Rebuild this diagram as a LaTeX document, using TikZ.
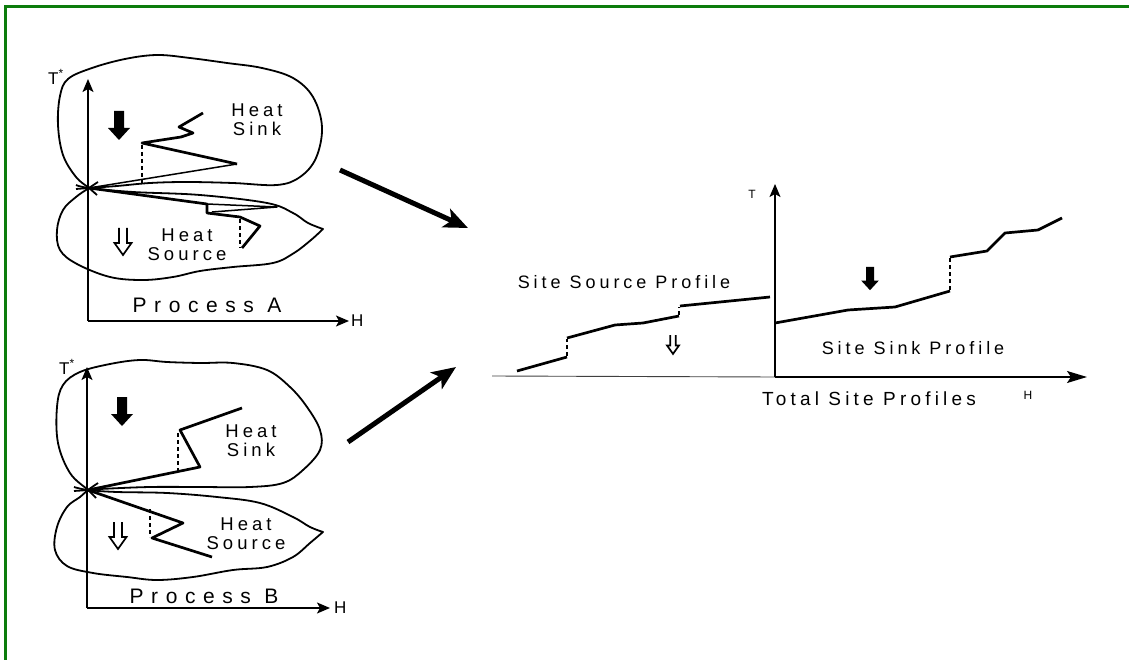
\documentclass[tikz,border=0pt]{standalone}
\usepackage{fontspec}
\setmainfont{Liberation Sans}
\newfontfamily\lbl[LetterSpace=22]{Liberation Sans}
\newfontfamily\lblwide[LetterSpace=36]{Liberation Sans}
\usetikzlibrary{arrows.meta}
\definecolor{framegreen}{RGB}{12,124,12}

\begin{document}
\begin{tikzpicture}[x=1pt,y=-1pt,
  blob/.style={line width=1.8pt, line join=round},
  profile/.style={line width=2.7pt, line join=round},
  thinprof/.style={line width=1.5pt, line join=round},
  drop/.style={line width=1.4pt, dash pattern=on 4pt off 3pt},
  axis/.style={line width=1.5pt, -{Stealth[length=13pt,width=11pt,inset=3pt]}},
  bigarrow/.style={line width=5pt, -{Stealth[length=24pt,width=20pt,inset=6pt]}},
  lab/.style={inner sep=0pt, align=center, font={\lbl\fontsize{18.5}{19}\selectfont}},
  title/.style={inner sep=0pt, font={\lblwide\fontsize{21}{22}\selectfont}},
  sitelab/.style={inner sep=0pt, font={\lbl\fontsize{18}{19}\selectfont}},
  axlab/.style={inner sep=0pt, font={\fontsize{17}{18}\selectfont}},
  smallax/.style={inner sep=0pt, font={\fontsize{12}{14}\selectfont}},
  solidarrow/.pic={\fill (-5,0) -- (-5,17) -- (-11,17) -- (0,29) -- (11,17) -- (5,17) -- (5,0) -- cycle;},
  hollowarrow/.pic={\draw[line width=1.7pt, line join=miter]
      (-4,0) -- (-4,15) -- (-8.5,15) -- (0,27) -- (8.5,15) -- (4,15) -- (4,0);},
]
\useasboundingbox (0,0) rectangle (1129,660);

% outer frame
\draw[framegreen, line width=3.5pt] (5.5,680) -- (5.5,6.5) -- (1150,6.5);

% ---------------- Process A ----------------
\coordinate (A0) at (88,321);
\coordinate (Atop) at (88,79);
\coordinate (Aend) at (349,321);
\coordinate (Ax) at (89,188);
\draw[axis] (A0) -- (Atop);
\draw[axis] (A0) -- (Aend);
\node[axlab] (AT) at (56,77) {T\textsuperscript{*}};
\node[axlab, anchor=west] (AH) at (351,321) {H};

% heat sink envelope
\draw[blob] plot[smooth, tension=0.6] coordinates {
  (97,195) (Ax) (76,177) (63,155) (58,125) (60,96) (68,79) (92,68) (125,59)
  (157,55) (190,58) (227,63) (262,68) (293,78) (313,97) (322,127) (316,158)
  (300,177) (277,185) (233,183) (187,182) (150,183) (117,186) (Ax) (76,189)};
% heat source envelope
\draw[blob] plot[smooth, tension=0.6] coordinates {
  (76,185) (Ax) (133,192) (200,195) (267,203) (293,213) (308,223) (323,229)}
  -- plot[smooth, tension=0.6] coordinates {
  (323,229) (311,240) (294,253) (273,263) (233,267) (200,271) (173,277)
  (143,280) (110,277) (77,264) (60,250) (57,230) (63,210) (76,197) (Ax) (98,182)};

% sink composite curve
\draw[thinprof] (Ax) -- (237,164);
\draw[profile] (237,164) -- (142,143) -- (181,137) -- (193,133) -- (179,127) -- (203,113);
\draw[drop] (142,145) -- (142,183);
% source composite curve
\draw[profile] (Ax) -- (207,204) -- (207,213) -- (240,217) -- (260,226) -- (242,248);
\draw[thinprof] (207,204) -- (277,207) -- (212,212);
\draw[drop] (240,219) -- (240,248);

\pic at (119,111) {solidarrow};
\pic at (123,228) {hollowarrow};

\node[lab] (Asink) at (257,120) {Heat\\Sink};
\node[lab] (Asource) at (187,245) {Heat\\Source};
\node[title] (Aname) at (207,305) {Process A};

% ---------------- Process B ----------------
\coordinate (B0) at (87,608);
\coordinate (Btop) at (87,367);
\coordinate (Bend) at (330,608);
\coordinate (Bx) at (88,490);
\draw[axis] (B0) -- (Btop);
\draw[axis] (B0) -- (Bend);
\node[axlab] (BT) at (67,367) {T\textsuperscript{*}};
\node[axlab, anchor=west] (BH) at (334,608) {H};

% heat sink envelope
\draw[blob] plot[smooth, tension=0.6] coordinates {
  (96,498) (Bx) (70,473) (58,443) (57,407) (63,385) (80,372) (110,364) (140,360)
  (167,362) (200,363) (233,363) (267,370) (290,387) (307,407) (320,430)
  (320,450) (303,470) (283,483) (250,487) (200,487) (150,487) (100,489) (Bx) (74,491)};
% heat source envelope
\draw[blob] plot[smooth, tension=0.6] coordinates {
  (74,487) (Bx) (117,492) (167,493) (217,497) (260,503) (293,517) (310,527) (323,532)}
  -- plot[smooth, tension=0.6] coordinates {
  (323,532) (310,543) (293,557) (267,567) (233,570) (193,577) (157,580)
  (127,577) (93,573) (67,566) (55,550) (57,527) (67,507) (80,497) (Bx) (98,483)};

% sink composite curve
\draw[profile] (Bx) -- (200,467) -- (180,430) -- (242,408);
\draw[drop] (178,433) -- (178,471);
% source composite curve
\draw[profile] (Bx) -- (183,523) -- (152,538) -- (212,557);
\draw[drop] (150,509) -- (150,537);

\pic at (122,397) {solidarrow};
\pic at (118,522) {hollowarrow};

\node[lab] (Bsink) at (251,441) {Heat\\Sink};
\node[lab] (Bsource) at (246,534) {Heat\\Source};
\node[title] (Bname) at (204,596) {Process B};

% ---------------- Total site profiles ----------------
\coordinate (T0) at (775,377);
\coordinate (Ttop) at (775,184);
\coordinate (Tend) at (1087,377);
\coordinate (Tleft) at (492,376);
\draw[line width=0.9pt, black!75] (Tleft) -- (T0);
\draw[axis] (T0) -- (Ttop);
\draw[line width=1.6pt, -{Stealth[length=20pt,width=12pt,inset=4pt]}] (T0) -- (Tend);
\node[smallax] (TT) at (752,194) {T};
\node[smallax] (TH) at (1028,395) {H};

% site source profile
\draw[profile] (517,371) -- (567,357);
\draw[drop] (567,356) -- (567,339);
\draw[profile] (567,338) -- (615,325) -- (643,323) -- (679,316);
\draw[drop] (679,315) -- (679,307);
\draw[profile] (680,306) -- (770,297);

% site sink profile
\draw[profile] (775,323) -- (848,310) -- (895,307) -- (950,291);
\draw[drop] (950,290) -- (950,258);
\draw[profile] (950,257) -- (987,251) -- (1005,233) -- (1038,230) -- (1062,218);

\pic[scale=0.8] at (870,267) {solidarrow};
\pic[scale=0.7] at (673,335) {hollowarrow};

\node[sitelab] (srcname) at (624,282) {Site Source Profile};
\node[sitelab] (sinkname) at (913,348) {Site Sink Profile};
\node[sitelab, font={\lbl\fontsize{19}{20}\selectfont}] (totname) at (869,399) {Total Site Profiles};

% combining arrows
\coordinate (fromA) at (340,170);
\coordinate (intoT1) at (468,228);
\coordinate (fromB) at (348,442);
\coordinate (intoT2) at (456,367);
\draw[bigarrow] (fromA) -- (intoT1);
\draw[bigarrow] (fromB) -- (intoT2);
\end{tikzpicture}
\end{document}
